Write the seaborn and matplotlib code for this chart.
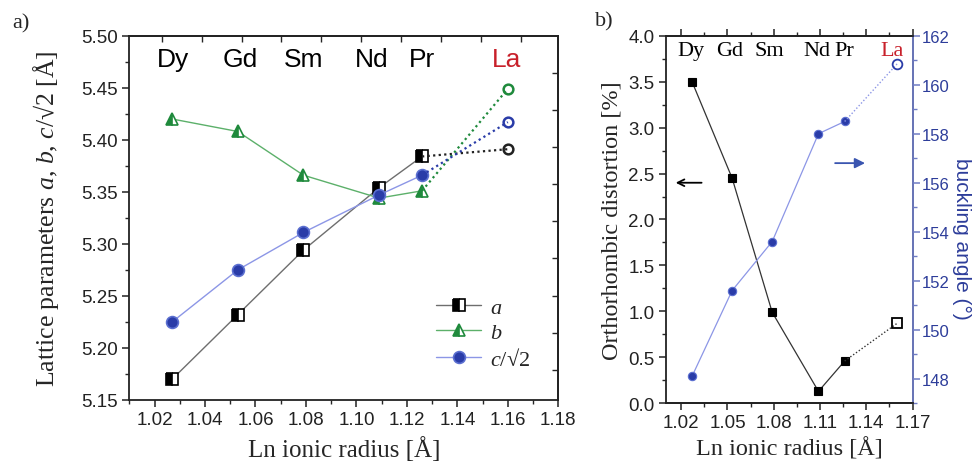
import numpy as np
import pandas as pd
import matplotlib
matplotlib.use("Agg")
import matplotlib.pyplot as plt
from matplotlib.ticker import MultipleLocator, FormatStrFormatter
import seaborn as sns

# ---------------- data ----------------
elements = ["Dy", "Gd", "Sm", "Nd", "Pr", "La"]
radius = [1.027, 1.053, 1.079, 1.109, 1.126, 1.160]
lat_a = [5.170, 5.232, 5.294, 5.354, 5.384, 5.391]
lat_b = [5.420, 5.408, 5.366, 5.344, 5.351, 5.449]
lat_c = [5.225, 5.275, 5.311, 5.347, 5.366, 5.417]
distortion = [3.50, 2.45, 0.99, 0.13, 0.46, 0.87]
buckling = [148.1, 151.6, 153.6, 158.0, 158.5, 160.85]

# ---------------- style ----------------
sns.set_theme(style="ticks")
plt.rcParams["font.family"] = ["Liberation Sans", "DejaVu Sans"]
plt.rcParams["mathtext.fontset"] = "custom"
plt.rcParams["mathtext.rm"] = "Liberation Serif"
plt.rcParams["mathtext.it"] = "Liberation Serif:italic"
SERIF = ["Liberation Serif", "DejaVu Serif"]

RED = "#c8202a"
GREEN = "#1f8a3c"
GREEN_L = "#5cb06a"
BLUE = "#2a3ca8"
BLUE_L = "#8c96e6"
AXBLUE = "#6f7cc4"
TXBLUE = "#2d3d9a"

df = pd.DataFrame({"r": radius, "a": lat_a, "b": lat_b, "c": lat_c,
                   "d": distortion, "g": buckling, "el": elements})
solid = df.iloc[:-1]
tail = df.iloc[-2:]
last = df.iloc[-1:]

fig = plt.figure(figsize=(9.72, 4.64), dpi=100)
ax1 = fig.add_axes([0.133, 0.1358, 0.4414, 0.785])
ax2 = fig.add_axes([0.685, 0.1287, 0.2538, 0.7922])
ax3 = ax2.twinx()

# ---------------- panel a ----------------
series = [("a", "#6e6e6e", "#222222", "s", "black", "black", 8, r"$\it{a}$"),
          ("b", GREEN_L, GREEN, "^", GREEN, GREEN, 8, r"$\it{b}$"),
          ("c", BLUE_L, BLUE, "o", BLUE, "#5b6fd0", 8.5, r"$\it{c}\mathrm{/√2}$")]
for col, lc, dc, mk, mfc, mec, ms, lab in series:
    kw = dict(fillstyle="left", markerfacecoloralt="white") if col != "c" else {}
    sns.lineplot(data=solid, x="r", y=col, ax=ax1, color=lc, lw=1.0,
                 marker=mk, markersize=ms, mfc=mfc, mec=mec, mew=1.2,
                 label=lab, **kw)
    sns.lineplot(data=tail, x="r", y=col, ax=ax1, color=dc, lw=1.6,
                 linestyle=(0, (1, 1.5)))
    sns.lineplot(data=last, x="r", y=col, ax=ax1, color=dc, lw=0,
                 marker="o", markersize=7, mfc="none", mec=dc, mew=1.8)

ax1.set_xlim(1.01, 1.18)
ax1.set_ylim(5.15, 5.50)
ax1.xaxis.set_major_locator(MultipleLocator(0.02))
ax1.xaxis.set_minor_locator(MultipleLocator(0.01))
ax1.yaxis.set_major_locator(MultipleLocator(0.05))
ax1.yaxis.set_minor_locator(MultipleLocator(0.025))
ax1.xaxis.set_major_formatter(FormatStrFormatter("%.2f"))
ax1.yaxis.set_major_formatter(FormatStrFormatter("%.2f"))
ax1.tick_params(which="major", direction="out", length=5, width=1.1,
                labelsize=13.5, pad=3, colors="#222222")
ax1.tick_params(which="minor", direction="out", length=3, width=1.0)
for s in ax1.spines.values():
    s.set_linewidth(1.3)
    s.set_color("#222222")
ax1.set_xlabel("Ln ionic radius [Å]", family=SERIF, fontsize=18, labelpad=6)
ax1.set_ylabel(r"Lattice parameters $\it{a}$, $\it{b}$, $\it{c}\mathrm{/√2}$ [Å]",
               family=SERIF, fontsize=18.5, labelpad=15)

top1 = ax1.secondary_xaxis("top")
top1.set_xticks(np.arange(1.0229, 1.175, 0.0158))
top1.tick_params(direction="in", length=4, width=1.0, labeltop=False)
right1 = ax1.secondary_yaxis("right")
right1.set_yticks(np.arange(5.464, 5.16, -0.0356))
right1.tick_params(direction="in", length=4, width=1.0, labelright=False)
right1.spines["right"].set_linewidth(1.3)
top1.spines["top"].set_linewidth(1.3)

lab_x1 = [1.0272, 1.0541, 1.0791, 1.1060, 1.1258, 1.1594]
for name, x in zip(elements, lab_x1):
    ax1.text(x, 5.4776, name, ha="center", va="center", fontsize=19,
             color=RED if name == "La" else "black")

leg = ax1.legend(loc="upper left", bbox_to_anchor=(0.695, 0.308), frameon=False,
                 fontsize=16, handlelength=2.0, handletextpad=0.4,
                 labelspacing=0.2, borderaxespad=0)

# ---------------- panel b ----------------
sns.lineplot(data=solid, x="r", y="d", ax=ax2, color="#333333", lw=0.9,
             marker="s", markersize=6, mfc="black", mec="black", mew=0.8)
sns.lineplot(data=tail, x="r", y="d", ax=ax2, color="#333333", lw=1.0,
             linestyle=(0, (1, 1.5)))
sns.lineplot(data=last, x="r", y="d", ax=ax2, color="black", lw=0,
             marker="s", markersize=7, mfc="none", mec="black", mew=1.3)

sns.lineplot(data=solid, x="r", y="g", ax=ax3, color=BLUE_L, lw=0.9,
             marker="o", markersize=6, mfc=BLUE, mec="#5b6fd0", mew=0.8)
sns.lineplot(data=tail, x="r", y="g", ax=ax3, color=BLUE_L, lw=1.0,
             linestyle=(0, (1, 1.5)))
sns.lineplot(data=last, x="r", y="g", ax=ax3, color=BLUE, lw=0,
             marker="o", markersize=7, mfc="none", mec=BLUE, mew=1.3)

ax2.set_xlim(1.01, 1.17)
ax2.set_ylim(0.0, 4.0)
ax3.set_ylim(147, 162)
ax2.xaxis.set_major_locator(MultipleLocator(0.03))
ax2.xaxis.set_minor_locator(MultipleLocator(0.015))
ax2.yaxis.set_major_locator(MultipleLocator(0.5))
ax2.yaxis.set_minor_locator(MultipleLocator(0.25))
ax3.yaxis.set_major_locator(MultipleLocator(2))
ax3.yaxis.set_minor_locator(MultipleLocator(1))
ax2.xaxis.set_major_formatter(FormatStrFormatter("%.2f"))
ax2.yaxis.set_major_formatter(FormatStrFormatter("%.1f"))
ax3.yaxis.set_major_formatter(FormatStrFormatter("%d"))
ax2.tick_params(which="major", direction="out", length=5, width=1.1,
                labelsize=13.5, pad=3, colors="#222222")
ax2.tick_params(which="minor", direction="out", length=3, width=1.0)
ax2.tick_params(axis="x", which="both", top=True)
ax3.tick_params(which="major", direction="out", length=5, width=1.1,
                labelsize=12, pad=1.5, colors=AXBLUE, labelcolor=TXBLUE)
ax3.tick_params(which="minor", direction="out", length=3, width=1.0, colors=AXBLUE)
for s in ax2.spines.values():
    s.set_linewidth(1.3)
    s.set_color("#222222")
for k, s in ax3.spines.items():
    s.set_linewidth(1.3)
    s.set_color(AXBLUE if k == "right" else "#222222")
ax3.spines["left"].set_visible(False)

ax2.set_xlabel("Ln ionic radius [Å]", family=SERIF, fontsize=17.5, labelpad=4)
ax2.set_ylabel("Orthorhombic distortion [%]", family=SERIF, fontsize=17.5,
               labelpad=4)
ax3.set_ylabel("buckling angle (°)", fontsize=15, color=TXBLUE,
               rotation=270, va="center")
ax3.yaxis.set_label_coords(1.2, 0.45)

lab_x2 = [1.0264, 1.0511, 1.0772, 1.1079, 1.1260, 1.1570]
for name, x in zip(elements, lab_x2):
    ax2.text(x, 3.837, name, ha="center", va="center", fontsize=16,
             family=SERIF, color=RED if name == "La" else "black")

ax2.annotate("", xy=(1.0146, 2.40), xytext=(1.035, 2.40),
             arrowprops=dict(arrowstyle="->", color="black", lw=1.3))
ax3.annotate("", xy=(1.141, 156.8), xytext=(1.118, 156.8),
             arrowprops=dict(arrowstyle="-|>", color="#3a55b0", lw=1.3,
                             mutation_scale=15))

fig.text(0.022, 0.948, "a)", family=SERIF, fontsize=16, ha="center", va="center")
fig.text(0.622, 0.952, "b)", family=SERIF, fontsize=16, ha="center", va="center")

fig.savefig("out.png", dpi=100)
